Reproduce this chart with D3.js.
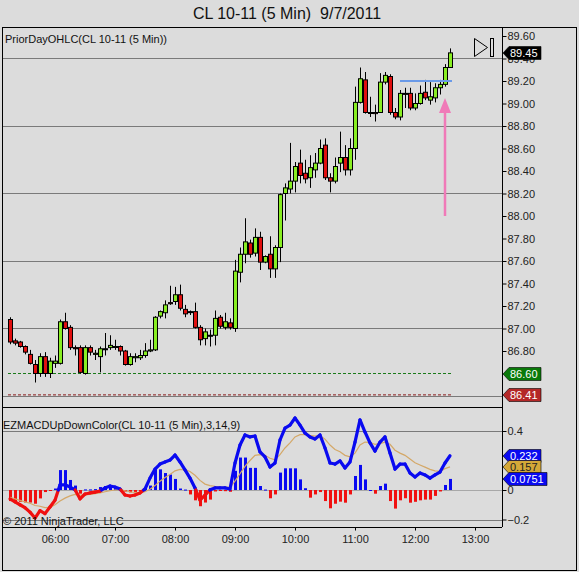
<!DOCTYPE html>
<html><head><meta charset="utf-8">
<script src="https://cdn.jsdelivr.net/npm/d3@7"></script>
<style>
html,body{margin:0;padding:0;background:#dcdcdc;}
svg{display:block;font-family:"Liberation Sans",Arial,sans-serif;}
</style></head>
<body>
<svg id="c" width="579" height="572"></svg>
<script>
const times = ["05:15","05:20","05:25","05:30","05:35","05:40","05:45","05:50","05:55","06:00",
"06:05","06:10","06:15","06:20","06:25","06:30","06:35","06:40","06:45","06:50","06:55",
"07:00","07:05","07:10","07:15","07:20","07:25","07:30","07:35","07:40","07:45","07:50","07:55",
"08:00","08:05","08:10","08:15","08:20","08:25","08:30","08:35","08:40","08:45","08:50","08:55",
"09:00","09:05","09:10","09:15","09:20","09:25","09:30","09:35","09:40","09:45","09:50","09:55",
"10:00","10:05","10:10","10:15","10:20","10:25","10:30","10:35","10:40","10:45","10:50","10:55",
"11:00","11:05","11:10","11:15","11:20","11:25","11:30","11:35","11:40","11:45","11:50","11:55",
"12:00","12:05","12:10","12:15","12:20","12:25","12:30","12:35"];
const open = [87.08,86.89,86.88,86.84,86.77,86.68,86.60,86.75,86.60,86.69,
86.69,87.06,87.01,86.83,86.83,86.60,86.83,86.77,86.75,86.82,
86.83,86.84,86.84,86.80,86.68,86.74,86.74,86.76,86.80,86.81,
87.11,87.14,87.23,87.24,87.30,87.17,87.15,87.15,87.01,86.91,
86.94,86.94,87.10,87.01,87.05,87.00,87.50,87.66,87.76,87.67,
87.81,87.59,87.66,87.53,87.72,88.20,88.24,88.31,88.47,88.38,
88.34,88.41,88.47,88.63,88.34,88.31,88.47,88.52,88.41,88.60,
89.01,89.21,88.92,88.92,88.92,89.19,89.24,88.92,88.88,89.09,
89.09,88.96,89.00,89.10,89.03,89.05,89.14,89.17,89.32];
const high = [87.10,86.91,86.89,86.85,86.81,86.72,86.78,86.79,86.74,86.76,
87.08,87.14,87.03,86.85,86.85,86.85,86.85,86.81,86.84,86.96,
86.94,86.90,86.85,86.81,86.78,86.78,86.81,86.87,86.90,87.11,
87.16,87.25,87.38,87.37,87.39,87.21,87.16,87.23,87.03,87.00,
86.99,87.16,87.12,87.14,87.09,87.61,87.72,87.98,87.79,87.89,
87.86,87.65,87.82,87.74,88.20,88.29,88.65,88.48,88.59,88.50,
88.54,88.56,88.68,88.69,88.38,88.52,88.75,88.63,88.69,89.15,
89.32,89.28,89.06,88.99,89.27,89.28,89.26,88.96,89.12,89.14,
89.14,89.09,89.16,89.21,89.19,89.18,89.21,89.35,89.49];
const low = [86.86,86.85,86.83,86.77,86.68,86.52,86.57,86.57,86.56,86.65,
86.68,86.99,86.81,86.76,86.60,86.59,86.76,86.72,86.61,86.76,
86.81,86.81,86.76,86.67,86.67,86.70,86.72,86.74,86.79,86.80,
87.09,87.09,87.21,87.21,87.16,87.10,87.12,87.00,86.85,86.85,
86.84,86.85,87.00,86.99,86.99,86.97,87.41,87.58,87.63,87.64,
87.52,87.58,87.45,87.45,87.59,87.96,88.20,88.21,88.29,88.29,
88.25,88.34,88.46,88.32,88.21,88.29,88.39,88.36,88.36,88.50,
89.00,88.91,88.88,88.84,88.92,89.17,88.90,88.86,88.85,88.96,
88.94,88.94,88.99,89.03,88.99,89.01,89.08,89.15,89.32];
const close = [86.88,86.87,86.84,86.79,86.69,86.60,86.75,86.60,86.71,86.71,
87.06,87.00,86.83,86.82,86.61,86.83,86.79,86.78,86.82,86.82,
86.85,86.84,86.80,86.68,86.75,86.75,86.76,86.80,86.81,87.10,
87.15,87.21,87.22,87.30,87.18,87.13,87.15,87.01,86.90,86.97,
86.94,87.09,87.02,87.06,87.01,87.51,87.66,87.77,87.66,87.81,
87.59,87.64,87.53,87.72,88.19,88.25,88.31,88.44,88.36,88.33,
88.43,88.47,88.60,88.34,88.31,88.44,88.52,88.41,88.60,89.01,
89.22,88.92,88.92,88.91,89.19,89.25,88.92,88.88,89.09,89.09,
88.96,89.00,89.09,89.05,89.06,89.14,89.17,89.32,89.45];
const macd = [-0.06,-0.08,-0.10,-0.12,-0.15,-0.19,-0.14,-0.16,-0.115,-0.07,
0.035,0.035,0.02,0.002,-0.06,-0.027,-0.02,-0.014,-0.007,0.014,
0.027,0.02,0.007,-0.034,-0.041,-0.034,-0.02,0.007,0.081,0.142,
0.176,0.19,0.203,0.237,0.19,0.136,0.081,0.014,-0.068,-0.034,
0.001,0.014,0.014,0.014,0.007,0.183,0.305,0.373,0.36,0.366,
0.258,0.224,0.156,0.183,0.339,0.42,0.44,0.488,0.44,0.386,
0.36,0.346,0.373,0.285,0.183,0.176,0.197,0.149,0.19,0.325,
0.475,0.393,0.319,0.264,0.325,0.36,0.251,0.142,0.176,0.176,
0.115,0.088,0.115,0.102,0.081,0.102,0.122,0.183,0.232];
const signal = [-0.05,-0.06,-0.07,-0.08,-0.09,-0.105,-0.11,-0.12,-0.118,-0.10,
-0.075,-0.055,-0.04,-0.03,-0.035,-0.033,-0.03,-0.025,-0.02,-0.012,
-0.005,0.0,0.002,-0.005,-0.012,-0.017,-0.018,-0.012,0.005,0.03,
0.06,0.085,0.105,0.13,0.14,0.138,0.125,0.1,0.065,0.04,
0.03,0.025,0.022,0.02,0.018,0.06,0.11,0.16,0.2,0.235,
0.24,0.235,0.215,0.205,0.24,0.285,0.32,0.36,0.375,0.376,
0.37,0.365,0.368,0.345,0.305,0.275,0.26,0.235,0.225,0.25,
0.305,0.325,0.322,0.31,0.315,0.325,0.31,0.27,0.25,0.235,
0.21,0.185,0.17,0.155,0.14,0.13,0.127,0.145,0.157];
const hist = [-0.075,-0.075,-0.08,-0.085,-0.085,-0.093,-0.057,-0.014,-0.004,0.01,
0.135,0.135,0.068,0.03,-0.025,0.004,0.004,0.006,0.02,0.027,
0.032,0.016,0.006,-0.011,-0.016,-0.013,-0.006,0.016,0.03,0.14,
0.14,0.115,0.105,0.075,0.01,0.003,-0.03,-0.07,-0.11,-0.085,
-0.065,-0.01,-0.005,-0.008,-0.012,0.13,0.22,0.22,0.15,0.15,
0.027,0.003,-0.056,-0.03,0.118,0.147,0.147,0.147,0.072,0.012,
-0.052,-0.03,-0.014,-0.075,-0.124,-0.093,-0.079,-0.086,-0.03,0.095,
0.17,0.072,0.0,-0.025,0.027,0.043,-0.075,-0.126,-0.07,-0.056,
-0.086,-0.08,-0.07,-0.065,-0.065,-0.04,-0.01,0.034,0.0751];
const priceTicks = [86.80,87.00,87.20,87.40,87.60,87.80,88.00,88.20,88.40,88.60,88.80,89.00,89.20,89.40,89.60];
const priceGrid = [86.40,87.00,87.60,88.20,88.80,89.40];
const macdTicks = [0.4,0,-0.2];
const macdGrid = [0.4,-0.2];
const hourLabels = ["06:00","07:00","08:00","09:00","10:00","11:00","12:00","13:00"];
const priorLow = 86.60, priorClose = 86.41;
const lastPrice = 89.45;
const hLine = {level: 89.20, from: "11:45", to: "12:35"};
const arrow = {time: "12:30", tip: 89.05, tail: 88.00};
const title = "CL 10-11 (5 Min)  9/7/2011";

const parse = d3.timeParse("%H:%M");
const svg = d3.select("#c");
const F = '"Liberation Sans",Arial,sans-serif';

const L = 2, R = 502, T = 27, MB = 407, B = 527;
const x = d3.scaleTime().domain([parse("06:00"), parse("13:00")]).range([55, 475]);
const yP = d3.scaleLinear().domain([86.8, 89.6]).range([351, 36]);
const yM = d3.scaleLinear().domain([-0.2, 0.4]).range([519.5, 431]);

const bars = times.map((t,i)=>({t:parse(t),o:open[i],h:high[i],l:low[i],c:close[i],m:macd[i],s:signal[i],hi:hist[i]}));

svg.append("rect").attr("width",579).attr("height",572).attr("fill","#dcdcdc");
svg.append("text").attr("x",287).attr("y",19).attr("text-anchor","middle")
  .attr("font-size",16).attr("fill","#111").style("white-space","pre").attr("xml:space","preserve").text(title);

const defs = svg.append("defs");
defs.append("clipPath").attr("id","cp1").append("rect").attr("x",L).attr("y",T).attr("width",R-L).attr("height",MB-T);
defs.append("clipPath").attr("id","cp2").append("rect").attr("x",L).attr("y",MB).attr("width",R-L).attr("height",B-MB);

// grid lines
svg.append("g").selectAll("line").data(priceGrid).join("line")
  .attr("x1",L).attr("x2",R).attr("y1",d=>Math.round(yP(d))+0.5).attr("y2",d=>Math.round(yP(d))+0.5)
  .attr("stroke","#7a7a7a").attr("stroke-width",1);
svg.append("g").selectAll("line").data(macdGrid).join("line")
  .attr("x1",L).attr("x2",R).attr("y1",d=>Math.round(yM(d))+0.5).attr("y2",d=>Math.round(yM(d))+0.5)
  .attr("stroke","#7a7a7a").attr("stroke-width",1);
svg.append("line").attr("x1",L).attr("x2",R).attr("y1",Math.round(yM(0))+0.5).attr("y2",Math.round(yM(0))+0.5)
  .attr("stroke","#a8a8a8").attr("stroke-width",1);

// prior day lines
const gp = svg.append("g").attr("clip-path","url(#cp1)");
const x0 = x(bars[0].t)-2, x1 = x(bars[bars.length-1].t)+3;
gp.append("line").attr("x1",x0).attr("x2",x1).attr("y1",yP(priorLow)).attr("y2",yP(priorLow))
  .attr("stroke","#1a7a1a").attr("stroke-width",1).attr("stroke-dasharray","3,2");
gp.append("line").attr("x1",x0).attr("x2",x1).attr("y1",yP(priorClose)).attr("y2",yP(priorClose))
  .attr("stroke","#8b1a1a").attr("stroke-width",1).attr("stroke-dasharray","3,2");

// candles
const cg = gp.append("g");
cg.selectAll("line").data(bars).join("line")
  .attr("x1",d=>Math.round(x(d.t))+0.5).attr("x2",d=>Math.round(x(d.t))+0.5)
  .attr("y1",d=>yP(d.h)).attr("y2",d=>yP(d.l)).attr("stroke","#000").attr("stroke-width",1);
cg.selectAll("rect").data(bars).join("rect")
  .attr("x",d=>Math.round(x(d.t))-1.5).attr("width",4)
  .attr("y",d=>yP(Math.max(d.o,d.c)))
  .attr("height",d=>Math.max(1,Math.abs(yP(d.o)-yP(d.c))))
  .attr("fill",d=>d.c>d.o?"#88ee22":(d.c<d.o?"#e01010":"#000"))
  .attr("stroke","#000").attr("stroke-width",1);

// blue horizontal line
gp.append("line").attr("x1",x(parse(hLine.from))).attr("x2",x(parse(hLine.to))+2)
  .attr("y1",yP(hLine.level)).attr("y2",yP(hLine.level)).attr("stroke","#6a9ae8").attr("stroke-width",2);

// pink arrow
const ax = x(parse(arrow.time));
gp.append("line").attr("x1",ax).attr("x2",ax).attr("y1",yP(arrow.tail)).attr("y2",yP(arrow.tip)+14)
  .attr("stroke","#f07ab8").attr("stroke-width",2.5);
gp.append("path").attr("d",`M${ax},${yP(arrow.tip)} L${ax-6},${yP(arrow.tip)+15} L${ax+6},${yP(arrow.tip)+15} Z`)
  .attr("fill","#f07ab8");

// play-to-end icon
svg.append("path").attr("d","M474.5,38.5 L487.5,47.5 L474.5,56.5 Z").attr("fill","none").attr("stroke","#000").attr("stroke-width",1);
svg.append("rect").attr("x",490.5).attr("y",38.5).attr("width",3).attr("height",18).attr("fill","none").attr("stroke","#000");

// MACD histogram
const gm = svg.append("g").attr("clip-path","url(#cp2)");
gm.selectAll("rect").data(bars).join("rect")
  .attr("x",d=>Math.round(x(d.t))-1).attr("width",3)
  .attr("y",d=>Math.min(yM(0),yM(d.hi)))
  .attr("height",d=>Math.max(1,Math.abs(yM(d.hi)-yM(0))))
  .attr("fill",d=>d.hi>=0?"#0a0af0":"#f01010");

// signal line
gm.append("path").datum(bars).attr("fill","none").attr("stroke","#d4a868").attr("stroke-width",1.2)
  .attr("d",d3.line().x(d=>x(d.t)).y(d=>yM(d.s)));

// MACD line, coloured by sign
const segs = [];
for (let i=1;i<bars.length;i++){
  const a=bars[i-1], b=bars[i];
  const xa=x(a.t), xb=x(b.t);
  if ((a.m>=0)===(b.m>=0)) segs.push({x1:xa,y1:yM(a.m),x2:xb,y2:yM(b.m),pos:b.m>=0});
  else {
    const f = a.m/(a.m-b.m); const xc = xa+(xb-xa)*f;
    segs.push({x1:xa,y1:yM(a.m),x2:xc,y2:yM(0),pos:a.m>=0});
    segs.push({x1:xc,y1:yM(0),x2:xb,y2:yM(b.m),pos:b.m>=0});
  }
}
gm.selectAll("line.m").data(segs).join("line").attr("class","m")
  .attr("x1",d=>d.x1).attr("y1",d=>d.y1).attr("x2",d=>d.x2).attr("y2",d=>d.y2)
  .attr("stroke",d=>d.pos?"#0a0af0":"#f01010").attr("stroke-width",3.2).attr("stroke-linecap","round");

// panel labels
svg.append("text").attr("x",5).attr("y",43).attr("font-size",11).attr("fill","#111").text("PriorDayOHLC(CL 10-11 (5 Min))");
svg.append("text").attr("x",3).attr("y",429).attr("font-size",11).attr("fill","#111").text("EZMACDUpDownColor(CL 10-11 (5 Min),3,14,9)");
svg.append("text").attr("x",3).attr("y",525).attr("font-size",11).attr("fill","#111").text("\u00a9 2011 NinjaTrader, LLC");

// borders
svg.append("rect").attr("x",2.5).attr("y",27.5).attr("width",574).attr("height",543).attr("fill","none").attr("stroke","#000");
svg.append("line").attr("x1",R+0.5).attr("x2",R+0.5).attr("y1",T).attr("y2",B).attr("stroke","#000");
svg.append("line").attr("x1",L).attr("x2",R).attr("y1",MB+0.5).attr("y2",MB+0.5).attr("stroke","#000");
svg.append("line").attr("x1",L).attr("x2",R).attr("y1",B+0.5).attr("y2",B+0.5).attr("stroke","#000");

// axes
function styleAxis(g){
  g.select(".domain").remove();
  g.selectAll("text").attr("font-family",F).attr("font-size",11).attr("fill","#222");
  g.selectAll("line").attr("stroke","#000");
}
svg.append("g").attr("transform",`translate(${R+0.5},0)`)
  .call(d3.axisRight(yP).tickValues(priceTicks).tickSize(4).tickPadding(1).tickFormat(d3.format(".2f")))
  .call(styleAxis);
svg.append("g").attr("transform",`translate(${R+0.5},0)`)
  .call(d3.axisRight(yM).tickValues(macdTicks).tickSize(4).tickPadding(1).tickFormat(d=>d===0?"0":d3.format(".1f")(d)))
  .call(styleAxis);
svg.append("g").attr("transform",`translate(0,${B+0.5})`)
  .call(d3.axisBottom(x).tickValues(hourLabels.map(parse)).tickSize(3).tickPadding(5).tickFormat(d3.timeFormat("%H:%M")))
  .call(styleAxis);

// flags
function flag(yv, txt, bg, fg, w){
  const g = svg.append("g").attr("transform",`translate(${R+1},${Math.round(yv)})`);
  g.append("path").attr("d",`M0,0 L6,-6.5 L${w},-6.5 L${w},6.5 L6,6.5 Z`).attr("fill",bg).attr("stroke","#000").attr("stroke-width",0.6);
  g.append("text").attr("x",7).attr("y",4).attr("font-size",11).attr("fill",fg).text(txt);
}
flag(yP(lastPrice), d3.format(".2f")(lastPrice), "#000", "#fff", 38);
flag(yP(priorLow), d3.format(".2f")(priorLow), "#0a7a0a", "#fff", 38);
flag(yP(priorClose), d3.format(".2f")(priorClose), "#b42828", "#fff", 38);
const lm = macd[macd.length-1], ls = signal[signal.length-1], lh = hist[hist.length-1];
flag(yM(lm), String(lm), "#0a0af0", "#fff", 38);
flag(yM(ls), String(ls), "#d4a838", "#222", 38);
flag(yM(lh), String(lh), "#0a0af0", "#fff", 44);
</script>
</body></html>
